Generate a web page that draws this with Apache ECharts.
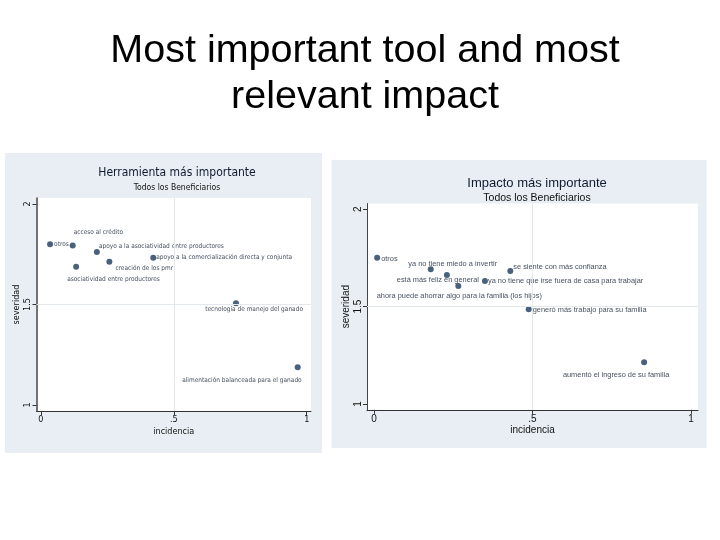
<!DOCTYPE html>
<html>
<head>
<meta charset="utf-8">
<script src="https://cdn.jsdelivr.net/npm/echarts@6/dist/echarts.min.js"></script>
<style>
  html, body { margin: 0; background: #fff; }
  #chart { width: 720px; height: 540px; }
</style>
</head>
<body>
<div id="chart"></div>
<script>
// Herramienta más importante (incidencia vs severidad)
const toolNames = [
  'otros',
  'acceso al crédito',
  'apoyo a la asociatividad entre productores',
  'creación de los pmr',
  'asociatividad entre productores',
  'apoyo a la comercialización directa y conjunta',
  'tecnología de manejo del ganado',
  'alimentación balanceada para el ganado'
]
const toolIncidence = [0.035, 0.12, 0.211, 0.258, 0.133, 0.423, 0.734, 0.966]
const toolSeverity = [1.80, 1.793, 1.761, 1.713, 1.688, 1.733, 1.506, 1.188]

// Impacto más importante
const impactNames = [
  'otros',
  'ya no tiene miedo a invertir',
  'está más feliz en general',
  'ahora puede ahorrar algo para la familia (los hijos)',
  'ya no tiene que irse fuera de casa para trabajar',
  'se siente con más confianza',
  'generó más trabajo para su familia',
  'aumentó el ingreso de su familia'
]
const impactIncidence = [0.010, 0.179, 0.230, 0.266, 0.350, 0.430, 0.488, 0.852]
const impactSeverity = [1.751, 1.692, 1.663, 1.606, 1.632, 1.683, 1.486, 1.214]

const xTicks = [0, 0.5, 1]
const yTicks = [1, 1.5, 2]

// label placement around each marker, like the mlabpos of the original graph
const toolLabelPlace = [
  ['right', [-1, 0]],
  ['right', [-4, -13]],
  ['right', [-3, -6]],
  ['right', [1, 7]],
  ['right', [-14, 13]],
  ['right', [-2, 0]],
  ['left', [72, 6]],
  ['left', [9, 13]]
]
const impactLabelPlace = [
  ['right', [-1, 1]],
  ['top', [22, 3]],
  ['bottom', [-9, -3]],
  ['bottom', [1, 1]],
  ['right', [-2, 0]],
  ['right', [-2, -4]],
  ['right', [-1, 1]],
  ['bottom', [-28, 4]]
]

const navy = '#1a3a5c'
const textDark = '#0f1b30'
const narrow = "'DejaVu Sans Condensed', 'Liberation Sans Narrow', 'Liberation Sans', sans-serif"
const arial = "'Liberation Sans', Arial, sans-serif"

function tickText (v) {
  return v === 0.5 ? '.5' : String(v)
}

function buildPoints (names, xs, ys, places, font, size) {
  return names.map(function (name, i) {
    return {
      name: name,
      value: [xs[i], ys[i]],
      label: {
        show: true,
        formatter: name,
        position: places[i][0],
        offset: places[i][1],
        distance: 2,
        fontFamily: font,
        fontSize: size,
        color: textDark
      }
    }
  })
}

function xAxisFor (gridIndex, min, max, font, size, gap) {
  return {
    type: 'value',
    gridIndex: gridIndex,
    min: min,
    max: max,
    name: 'incidencia',
    nameLocation: 'middle',
    nameGap: gap,
    nameTextStyle: { fontFamily: font, fontSize: size, color: '#111' },
    axisLine: { show: true, onZero: false, lineStyle: { color: '#333', width: 1 } },
    axisTick: { show: true, length: 4, customValues: xTicks, lineStyle: { color: '#333' } },
    axisLabel: { customValues: xTicks, formatter: tickText, margin: 4, fontFamily: font, fontSize: size, color: '#111' },
    splitLine: { show: false }
  }
}

function yAxisFor (gridIndex, min, max, font, size, gap, lineWidth) {
  return {
    type: 'value',
    gridIndex: gridIndex,
    min: min,
    max: max,
    name: 'severidad',
    nameLocation: 'middle',
    nameGap: gap,
    nameTextStyle: { fontFamily: font, fontSize: size, color: '#111' },
    axisLine: { show: true, onZero: false, lineStyle: { color: '#444', width: lineWidth } },
    axisTick: { show: true, length: 4, customValues: yTicks, lineStyle: { color: '#333' } },
    axisLabel: { customValues: yTicks, formatter: tickText, rotate: 90, margin: 4, fontFamily: font, fontSize: size, color: '#111' },
    splitLine: { show: false }
  }
}

function gridLines () {
  return {
    silent: true,
    symbol: 'none',
    label: { show: false },
    lineStyle: { color: '#e3e8ec', type: 'solid', width: 1 },
    data: [{ xAxis: 0.5 }, { yAxis: 1.5 }]
  }
}

const chart = echarts.init(document.getElementById('chart'))

chart.setOption({
  backgroundColor: '#fff',
  animation: false,
  graphic: [
    { type: 'rect', z: -10, shape: { x: 5, y: 153, width: 317, height: 300 }, style: { fill: '#e8eef3' } },
    { type: 'rect', z: -10, shape: { x: 331.5, y: 160, width: 375, height: 288 }, style: { fill: '#e8eef3' } }
  ],
  title: [
    {
      text: 'Most important tool and most\nrelevant impact',
      left: 360,
      textAlign: 'center',
      top: 23,
      textStyle: { fontFamily: arial, fontSize: 39.5, lineHeight: 46, fontWeight: 'normal', color: '#000' }
    },
    {
      text: 'Herramienta más importante',
      subtext: 'Todos los Beneficiarios',
      left: 172,
      textAlign: 'center',
      top: 162,
      itemGap: 4,
      textStyle: { fontFamily: narrow, fontSize: 12, fontWeight: 'normal', color: textDark },
      subtextStyle: { fontFamily: narrow, fontSize: 8.5, color: '#111' }
    },
    {
      text: 'Impacto más importante',
      subtext: 'Todos los Beneficiarios',
      left: 532,
      textAlign: 'center',
      top: 172,
      itemGap: 3,
      textStyle: { fontFamily: arial, fontSize: 13, fontWeight: 'normal', color: textDark },
      subtextStyle: { fontFamily: arial, fontSize: 10.5, color: '#111' }
    }
  ],
  grid: [
    { left: 36.5, top: 198, width: 274.5, height: 213, show: true, backgroundColor: '#fff', borderWidth: 0 },
    { left: 367, top: 203.5, width: 331, height: 206.3, show: true, backgroundColor: '#fff', borderWidth: 0 }
  ],
  xAxis: [
    xAxisFor(0, -0.016, 1.016, narrow, 9, 16),
    xAxisFor(1, -0.022, 1.022, arial, 10, 15)
  ],
  yAxis: [
    yAxisFor(0, 0.97, 2.03, narrow, 9, 15, 1.5),
    yAxisFor(1, 0.97, 2.03, arial, 10, 16, 1)
  ],
  series: [
    {
      type: 'scatter',
      xAxisIndex: 0,
      yAxisIndex: 0,
      symbolSize: 6,
      itemStyle: { color: navy },
      data: buildPoints(toolNames, toolIncidence, toolSeverity, toolLabelPlace, narrow, 6.5),
      markLine: gridLines()
    },
    {
      type: 'scatter',
      xAxisIndex: 1,
      yAxisIndex: 1,
      symbolSize: 6,
      itemStyle: { color: navy },
      data: buildPoints(impactNames, impactIncidence, impactSeverity, impactLabelPlace, arial, 7.4),
      markLine: gridLines()
    }
  ]
})
</script>
</body>
</html>
